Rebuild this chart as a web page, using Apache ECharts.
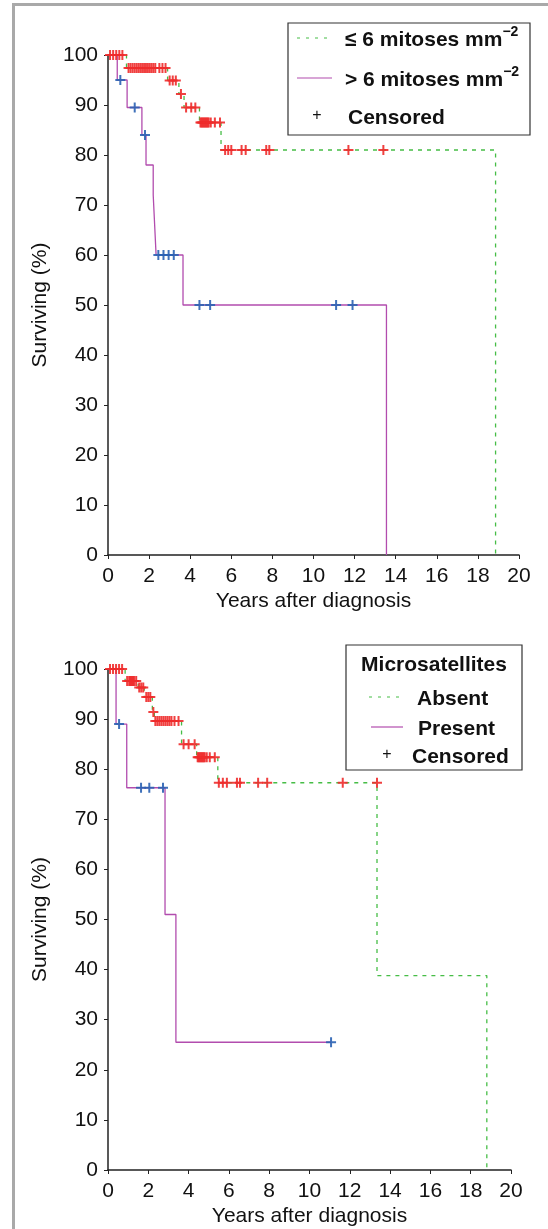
<!DOCTYPE html>
<html>
<head>
<meta charset="utf-8">
<script src="https://cdn.jsdelivr.net/npm/echarts@6/dist/echarts.min.js"></script>
<style>
html, body { margin: 0; padding: 0; background: #fff; }
#chart { width: 548px; height: 1229px; }
</style>
</head>
<body>
<div id="chart"></div>
<script>
// top panel: mitoses
const topLowTimes = [0, 0.9, 2.9, 3.45, 3.7, 4.45, 5.5, 18.86];
const topLowSurv = [100, 97.4, 94.9, 92.2, 89.5, 86.5, 81, 0];
const topLowCensT = [0.1, 0.25, 0.4, 0.55, 0.7,
  1.0, 1.1, 1.2, 1.3, 1.4, 1.5, 1.6, 1.7, 1.8, 1.9, 2.0, 2.1, 2.2, 2.3, 2.5, 2.65, 2.8,
  3.0, 3.15, 3.3, 3.55, 3.8, 4.05, 4.25,
  4.5, 4.55, 4.6, 4.65, 4.7, 4.75, 4.8, 4.85, 4.9, 5.0, 5.2, 5.45,
  5.7, 5.85, 6.0, 6.5, 6.7, 7.7, 7.85, 11.7, 13.4];
const topLowCensS = [100, 100, 100, 100, 100,
  97.4, 97.4, 97.4, 97.4, 97.4, 97.4, 97.4, 97.4, 97.4, 97.4, 97.4, 97.4, 97.4, 97.4, 97.4, 97.4, 97.4,
  94.9, 94.9, 94.9, 92.2, 89.5, 89.5, 89.5,
  86.5, 86.5, 86.5, 86.5, 86.5, 86.5, 86.5, 86.5, 86.5, 86.5, 86.5, 86.5,
  81, 81, 81, 81, 81, 81, 81, 81, 81];

const topHighTimes = [0, 0.45, 0.93, 1.65, 1.85, 2.2, 2.27, 2.34, 3.65, 13.55];
const topHighSurv = [100, 95, 89.5, 84, 78, 72, 66, 60, 50, 0];
const topHighCensT = [0.6, 1.3, 1.8, 2.45, 2.7, 2.95, 3.2, 4.45, 4.97, 11.1, 11.9];
const topHighCensS = [95, 89.5, 84, 60, 60, 60, 60, 50, 50, 50, 50];

// bottom panel: microsatellites
const botAbsTimes = [0, 0.85, 1.5, 1.8, 2.2, 2.3, 3.65, 4.4, 5.45, 13.35, 18.8];
const botAbsSurv = [100, 97.6, 96.3, 94.4, 91.4, 89.6, 85, 82.4, 77.3, 38.8, 0];
const botAbsCensT = [0.1, 0.25, 0.4, 0.55, 0.7,
  0.95, 1.05, 1.1, 1.15, 1.2, 1.25, 1.3, 1.4,
  1.55, 1.65, 1.75, 1.9, 2.0, 2.1, 2.25,
  2.35, 2.45, 2.55, 2.65, 2.75, 2.85, 2.95, 3.05, 3.15, 3.3, 3.5,
  3.75, 4.0, 4.3,
  4.45, 4.5, 4.55, 4.6, 4.65, 4.7, 4.75, 4.8, 4.9, 5.05, 5.3,
  5.5, 5.7, 5.9, 6.4, 6.55, 7.45, 7.9, 11.65, 13.35];
const botAbsCensS = [100, 100, 100, 100, 100,
  97.6, 97.6, 97.6, 97.6, 97.6, 97.6, 97.6, 97.6,
  96.3, 96.3, 96.3, 94.4, 94.4, 94.4, 91.4,
  89.6, 89.6, 89.6, 89.6, 89.6, 89.6, 89.6, 89.6, 89.6, 89.6, 89.6,
  85, 85, 85,
  82.4, 82.4, 82.4, 82.4, 82.4, 82.4, 82.4, 82.4, 82.4, 82.4, 82.4,
  77.3, 77.3, 77.3, 77.3, 77.3, 77.3, 77.3, 77.3, 77.3];

const botPresTimes = [0, 0.4, 0.93, 2.83, 3.37, 11.07];
const botPresSurv = [100, 89, 76.3, 51, 25.5, 25.5];
const botPresCensT = [0.55, 1.64, 2.05, 2.73, 11.07];
const botPresCensS = [89, 76.3, 76.3, 76.3, 25.5];

const xMin = 0, xMax = 20, xStep = 2;
const yMin = 0, yMax = 100, yStep = 10;

const zip = (a, b) => a.map((v, i) => [v, b[i]]);

const GREEN = '#46bd46';
const PURPLE = '#b24cae';
const RED = '#ee2b2b';
const BLUE = '#2a62b2';
const FONT = 'Liberation Sans, Arial, sans-serif';
const PLUS = 'path://M4,0H6V4H10V6H6V10H4V6H0V4H4Z';
const FS = 21;

const chart = echarts.init(document.getElementById('chart'));

const makeX = (idx) => ({
  gridIndex: idx, type: 'value', min: xMin, max: xMax, interval: xStep,
  name: 'Years after diagnosis', nameLocation: 'middle', nameGap: 36,
  nameTextStyle: { fontSize: FS, color: '#111', fontFamily: FONT },
  axisLine: { lineStyle: { color: '#222', width: 1.5 } },
  axisTick: { show: true, length: 4, lineStyle: { color: '#222' } },
  axisLabel: { fontSize: FS, color: '#111', fontFamily: FONT, margin: 11 },
  splitLine: { show: false }
});
const makeY = (idx) => ({
  gridIndex: idx, type: 'value', min: yMin, max: yMax, interval: yStep,
  name: 'Surviving (%)', nameLocation: 'middle', nameGap: 57, nameRotate: 90,
  nameTextStyle: { fontSize: FS, color: '#111', fontFamily: FONT },
  axisLine: { show: true, lineStyle: { color: '#222', width: 1.5 } },
  axisTick: { show: true, length: 4, lineStyle: { color: '#222' } },
  axisLabel: { fontSize: FS, color: '#111', fontFamily: FONT, margin: 10 },
  splitLine: { show: false }
});
const km = (idx, data, color, dashed) => ({
  type: 'line', xAxisIndex: idx, yAxisIndex: idx, step: 'end', symbol: 'none',
  data: data, z: 2,
  lineStyle: { color: color, width: 1.3, type: dashed ? [4, 5] : 'solid' }
});
const cens = (idx, data, color) => ({
  type: 'scatter', xAxisIndex: idx, yAxisIndex: idx, symbol: PLUS, symbolSize: 10,
  data: data, z: 3, itemStyle: { color: color, opacity: 0.9 }
});

const legendText = (x, y, main, sup) => ({
  type: 'text', x: x, y: y, z: 11,
  style: {
    text: sup ? '{a|' + main + '}{s|' + sup + '}' : '{a|' + main + '}',
    verticalAlign: 'middle',
    rich: {
      a: { font: 'bold 21px ' + FONT, fill: '#111', lineHeight: 26, verticalAlign: 'bottom' },
      s: { font: 'bold 14px ' + FONT, fill: '#111', lineHeight: 26, verticalAlign: 'top' }
    }
  }
});
const sample = (x1, x2, y, color, dashed) => ({
  type: 'line', z: 11, shape: { x1: x1, y1: y, x2: x2, y2: y },
  style: { stroke: color, lineWidth: 1.2, lineDash: dashed ? [3, 6] : null }
});
const plusMark = (x, y) => ({
  type: 'text', x: x, y: y, z: 11,
  style: { text: '+', font: '16px ' + FONT, fill: '#111', align: 'center', verticalAlign: 'middle' }
});

chart.setOption({
  animation: false,
  backgroundColor: '#fff',
  grid: [
    { left: 108, top: 55, width: 411, height: 500 },
    { left: 108, top: 669, width: 403, height: 501 }
  ],
  xAxis: [makeX(0), makeX(1)],
  yAxis: [makeY(0), makeY(1)],
  series: [
    km(0, zip(topLowTimes, topLowSurv), GREEN, true),
    km(0, zip(topHighTimes, topHighSurv), PURPLE, false),
    cens(0, zip(topLowCensT, topLowCensS), RED),
    cens(0, zip(topHighCensT, topHighCensS), BLUE),
    km(1, zip(botAbsTimes, botAbsSurv), GREEN, true),
    km(1, zip(botPresTimes, botPresSurv), PURPLE, false),
    cens(1, zip(botAbsCensT, botAbsCensS), RED),
    cens(1, zip(botPresCensT, botPresCensS), BLUE)
  ],
  graphic: [
    // page frame
    { type: 'rect', shape: { x: 12, y: 3, width: 3, height: 1226 }, style: { fill: '#a9a9a9' } },
    { type: 'rect', shape: { x: 12, y: 3, width: 536, height: 3 }, style: { fill: '#a9a9a9' } },
    // top legend
    { type: 'rect', shape: { x: 288, y: 23, width: 242, height: 112 },
      style: { fill: '#fff', stroke: '#333', lineWidth: 1.2 }, z: 10 },
    sample(297, 332, 38, GREEN, true),
    legendText(345, 38, '\u2264 6 mitoses mm', '\u22122'),
    sample(297, 332, 78, PURPLE, false),
    legendText(345, 78, '> 6 mitoses mm', '\u22122'),
    plusMark(317, 116),
    legendText(348, 116, 'Censored'),
    // bottom legend
    { type: 'rect', shape: { x: 346, y: 645, width: 176, height: 125 },
      style: { fill: '#fff', stroke: '#333', lineWidth: 1.2 }, z: 10 },
    { type: 'text', x: 434, y: 665, z: 11,
      style: { text: 'Microsatellites', font: 'bold 21px ' + FONT, fill: '#111', align: 'center', verticalAlign: 'middle' } },
    sample(369, 402, 697, GREEN, true),
    legendText(417, 697, 'Absent'),
    sample(371, 403, 727, PURPLE, false),
    legendText(418, 727, 'Present'),
    plusMark(387, 755),
    legendText(412, 755, 'Censored')
  ]
});
</script>
</body>
</html>
